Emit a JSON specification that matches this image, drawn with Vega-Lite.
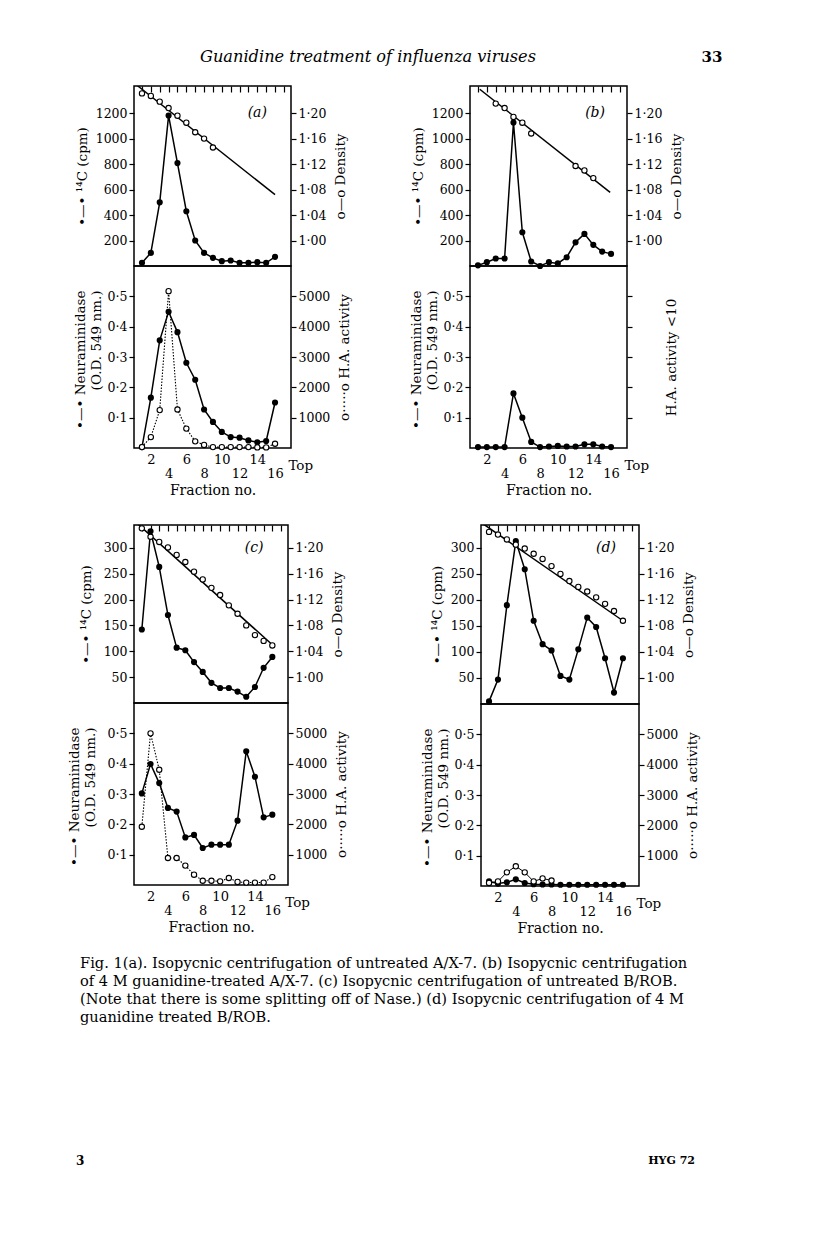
{
  "$schema": "https://vega.github.io/schema/vega-lite/v6.json",
  "background": "white",
  "padding": {"left": 66, "top": 49, "right": 0, "bottom": 0},
  "title": {"text": "Guanidine treatment of influenza viruses", "anchor": "start", "frame": "group", "dx": 66, "offset": -16, "fontStyle": "italic", "fontSize": 16.2, "fontWeight": "normal", "font": "DejaVu Serif", "color": "black"},
  "config": {
    "font": "DejaVu Serif",
    "view": {"stroke": "black", "strokeWidth": 1.5},
    "axis": {"domain": false, "grid": false, "labelColor": "black", "labelFontSize": 12.5, "labelFont": "DejaVu Serif", "tickColor": "black", "tickWidth": 1.2, "tickSize": 5, "labelPadding": 2, "titleColor": "black", "titleFont": "DejaVu Serif", "titleFontSize": 13.5, "titleFontWeight": "normal", "labelOverlap": false, "labelFlush": false},
    "title": {"color": "black", "font": "DejaVu Serif", "fontWeight": "normal"}
  },
  "datasets": {
    "pts": [
      {"p":"a","f":1,"cpm":25,"dens":1.231,"nd":0.003,"ha":30},
      {"p":"a","f":2,"cpm":103,"dens":1.227,"nd":0.166,"ha":360},
      {"p":"a","f":3,"cpm":500,"dens":1.218,"nd":0.355,"ha":1250},
      {"p":"a","f":4,"cpm":1181,"dens":1.208,"nd":0.449,"ha":5170},
      {"p":"a","f":5,"cpm":808,"dens":1.196,"nd":0.382,"ha":1270},
      {"p":"a","f":6,"cpm":430,"dens":1.185,"nd":0.281,"ha":640},
      {"p":"a","f":7,"cpm":200,"dens":1.170,"nd":0.225,"ha":220},
      {"p":"a","f":8,"cpm":103,"dens":1.160,"nd":0.127,"ha":100},
      {"p":"a","f":9,"cpm":64,"dens":1.146,"nd":0.086,"ha":30},
      {"p":"a","f":10,"cpm":38,"dens":null,"nd":0.053,"ha":30},
      {"p":"a","f":11,"cpm":43,"dens":null,"nd":0.036,"ha":30},
      {"p":"a","f":12,"cpm":25,"dens":null,"nd":0.034,"ha":30},
      {"p":"a","f":13,"cpm":25,"dens":null,"nd":0.025,"ha":30},
      {"p":"a","f":14,"cpm":30,"dens":null,"nd":0.019,"ha":20},
      {"p":"a","f":15,"cpm":25,"dens":null,"nd":0.023,"ha":20},
      {"p":"a","f":16,"cpm":72,"dens":null,"nd":0.150,"ha":140},
      {"p":"b","f":1,"cpm":5,"dens":null,"nd":0.003,"ha":null},
      {"p":"b","f":2,"cpm":30,"dens":null,"nd":0.003,"ha":null},
      {"p":"b","f":3,"cpm":59,"dens":1.215,"nd":0.003,"ha":null},
      {"p":"b","f":4,"cpm":59,"dens":1.208,"nd":0.003,"ha":null},
      {"p":"b","f":5,"cpm":1126,"dens":1.194,"nd":0.18,"ha":null},
      {"p":"b","f":6,"cpm":265,"dens":1.185,"nd":0.10,"ha":null},
      {"p":"b","f":7,"cpm":35,"dens":1.168,"nd":0.02,"ha":null},
      {"p":"b","f":8,"cpm":0,"dens":null,"nd":0.003,"ha":null},
      {"p":"b","f":9,"cpm":30,"dens":null,"nd":0.005,"ha":null},
      {"p":"b","f":10,"cpm":20,"dens":null,"nd":0.007,"ha":null},
      {"p":"b","f":11,"cpm":69,"dens":null,"nd":0.005,"ha":null},
      {"p":"b","f":12,"cpm":186,"dens":1.117,"nd":0.005,"ha":null},
      {"p":"b","f":13,"cpm":252,"dens":1.110,"nd":0.012,"ha":null},
      {"p":"b","f":14,"cpm":166,"dens":1.098,"nd":0.012,"ha":null},
      {"p":"b","f":15,"cpm":113,"dens":null,"nd":0.005,"ha":null},
      {"p":"b","f":16,"cpm":95,"dens":null,"nd":0.003,"ha":null},
      {"p":"c","f":1,"cpm":142,"dens":1.230,"nd":0.302,"ha":1920},
      {"p":"c","f":2,"cpm":332,"dens":1.217,"nd":0.399,"ha":5000},
      {"p":"c","f":3,"cpm":263,"dens":1.209,"nd":0.336,"ha":3800},
      {"p":"c","f":4,"cpm":170,"dens":1.2005,"nd":0.254,"ha":890},
      {"p":"c","f":5,"cpm":107,"dens":1.189,"nd":0.242,"ha":890},
      {"p":"c","f":6,"cpm":102,"dens":1.178,"nd":0.157,"ha":640},
      {"p":"c","f":7,"cpm":79,"dens":1.163,"nd":0.165,"ha":340},
      {"p":"c","f":8,"cpm":60,"dens":1.151,"nd":0.122,"ha":140},
      {"p":"c","f":9,"cpm":39,"dens":1.138,"nd":0.133,"ha":140},
      {"p":"c","f":10,"cpm":29,"dens":1.127,"nd":0.133,"ha":120},
      {"p":"c","f":11,"cpm":29,"dens":1.111,"nd":0.133,"ha":230},
      {"p":"c","f":12,"cpm":22,"dens":1.098,"nd":0.212,"ha":100},
      {"p":"c","f":13,"cpm":12,"dens":1.080,"nd":0.441,"ha":80},
      {"p":"c","f":14,"cpm":31,"dens":1.065,"nd":0.357,"ha":80},
      {"p":"c","f":15,"cpm":68,"dens":1.056,"nd":0.223,"ha":80},
      {"p":"c","f":16,"cpm":89,"dens":1.049,"nd":0.232,"ha":260},
      {"p":"d","f":1,"cpm":5,"dens":1.2246,"nd":0.015,"ha":100},
      {"p":"d","f":2,"cpm":47,"dens":1.2205,"nd":0.008,"ha":150},
      {"p":"d","f":3,"cpm":190,"dens":1.213,"nd":0.012,"ha":450},
      {"p":"d","f":4,"cpm":313,"dens":1.205,"nd":0.022,"ha":650},
      {"p":"d","f":5,"cpm":259,"dens":1.199,"nd":0.010,"ha":450},
      {"p":"d","f":6,"cpm":160,"dens":1.191,"nd":0.006,"ha":150},
      {"p":"d","f":7,"cpm":115,"dens":1.183,"nd":0.005,"ha":250},
      {"p":"d","f":8,"cpm":103,"dens":1.172,"nd":0.005,"ha":180},
      {"p":"d","f":9,"cpm":54,"dens":1.160,"nd":0.004,"ha":null},
      {"p":"d","f":10,"cpm":47,"dens":1.149,"nd":0.004,"ha":null},
      {"p":"d","f":11,"cpm":105,"dens":1.140,"nd":0.004,"ha":null},
      {"p":"d","f":12,"cpm":166,"dens":1.133,"nd":0.004,"ha":null},
      {"p":"d","f":13,"cpm":148,"dens":1.124,"nd":0.004,"ha":null},
      {"p":"d","f":14,"cpm":88,"dens":1.114,"nd":0.004,"ha":null},
      {"p":"d","f":15,"cpm":22,"dens":1.103,"nd":0.004,"ha":null},
      {"p":"d","f":16,"cpm":88,"dens":1.088,"nd":0.004,"ha":null}
    ],
    "fit": [
      {"p":"a","f":0.5,"dens":1.243},{"p":"a","f":16,"dens":1.072},
      {"p":"b","f":1.2,"dens":1.2375},{"p":"b","f":15.9,"dens":1.0756},
      {"p":"c","f":0.35,"dens":1.239},{"p":"c","f":16,"dens":1.050},
      {"p":"d","f":0.17,"dens":1.2385},{"p":"d","f":16,"dens":1.088}
    ],
    "lbl": [
      {"p":"a","label":"(a)","end":"Top"},{"p":"b","label":"(b)","end":"Top"},{"p":"c","label":"(c)","end":"Top"},{"p":"d","label":"(d)","end":"Top"}
    ],
    "foot": [
      {"side":"l","t":"3"},{"side":"r","t":"HYG 72"}
    ]
  },
  "vconcat": [
    {
      "spacing": 24,
      "vconcat": [
        {
          "spacing": 55,
          "hconcat": [
            {
              "spacing": 0, "bounds": "flush",
              "vconcat": [
                {
                  "width": 157, "height": 180,
                  "layer": [
                    {"layer": [
                      {"data": {"name": "pts"}, "transform": [{"filter": "datum.p === 'a'"}], "mark": {"type": "line", "color": "black", "strokeWidth": 1.5},
                       "encoding": {"x": {"field":"f","type":"quantitative","scale":{"domain":[0.1,17.8],"nice":false,"zero":false},"axis":{"orient":"top","values":[1,2,3,4,5,6,7,8,9,10,11,12,13,14,15,16,17],"labels":false,"tickSize":6,"offset":-6,"title":null}},
                                    "y": {"field":"cpm","type":"quantitative","scale":{"domain":[0,1413],"nice":false,"zero":false},"axis":{"values":[200,400,600,800,1000,1200],"format":"d","title":"•—•  ¹⁴C (cpm)","titlePadding":6}}}},
                      {"data": {"name": "pts"}, "transform": [{"filter": "datum.p === 'a'"}], "mark": {"type": "point", "shape": "circle", "filled": true, "color": "black", "size": 38, "opacity": 1},
                       "encoding": {"x": {"field":"f","type":"quantitative","scale":{"domain":[0.1,17.8],"nice":false,"zero":false},"axis":{"orient":"top","values":[1,2,3,4,5,6,7,8,9,10,11,12,13,14,15,16,17],"labels":false,"tickSize":6,"offset":-6,"title":null}},
                                    "y": {"field":"cpm","type":"quantitative","scale":{"domain":[0,1413],"nice":false,"zero":false},"axis":{"values":[200,400,600,800,1000,1200],"format":"d","title":"•—•  ¹⁴C (cpm)","titlePadding":6}}}},
                      {"data": {"name": "lbl"}, "transform": [{"filter": "datum.p === 'a'"}], "mark": {"type": "text", "fontStyle": "italic", "fontSize": 14, "color": "black"},
                       "encoding": {"text": {"field": "label"},
                                    "x": {"datum": 14, "type": "quantitative","scale":{"domain":[0.1,17.8],"nice":false,"zero":false},"axis":{"orient":"top","values":[1,2,3,4,5,6,7,8,9,10,11,12,13,14,15,16,17],"labels":false,"tickSize":6,"offset":-6,"title":null}},
                                    "y": {"datum": 1200, "type": "quantitative","scale":{"domain":[0,1413],"nice":false,"zero":false},"axis":{"values":[200,400,600,800,1000,1200],"format":"d","title":"•—•  ¹⁴C (cpm)","titlePadding":6}}}}
                    ]},
                    {"layer": [
                      {"data": {"name": "fit"}, "transform": [{"filter": "datum.p === 'a'"}], "mark": {"type": "line", "color": "black", "strokeWidth": 1.5, "clip": true},
                       "encoding": {"x": {"field":"f","type":"quantitative","scale":{"domain":[0.1,17.8],"nice":false,"zero":false},"axis":{"orient":"top","values":[1,2,3,4,5,6,7,8,9,10,11,12,13,14,15,16,17],"labels":false,"tickSize":6,"offset":-6,"title":null}},
                                    "y": {"field":"dens","type":"quantitative","scale":{"domain":[0.96,1.2426],"nice":false,"zero":false},"axis":{"orient":"right","values":[1,1.04,1.08,1.12,1.16,1.2],"labelExpr":"replace(format(datum.value,'.2f'),'.','·')","title":"o—o  Density","titleAngle":270,"titleBaseline":"top","titlePadding":8}}}},
                      {"data": {"name": "pts"}, "transform": [{"filter": "datum.p === 'a'"}], "mark": {"type": "point", "shape": "circle", "filled": true, "fill": "white", "stroke": "black", "strokeWidth": 1.1, "size": 28, "opacity": 1},
                       "encoding": {"x": {"field":"f","type":"quantitative","scale":{"domain":[0.1,17.8],"nice":false,"zero":false},"axis":{"orient":"top","values":[1,2,3,4,5,6,7,8,9,10,11,12,13,14,15,16,17],"labels":false,"tickSize":6,"offset":-6,"title":null}},
                                    "y": {"field":"dens","type":"quantitative","scale":{"domain":[0.96,1.2426],"nice":false,"zero":false},"axis":{"orient":"right","values":[1,1.04,1.08,1.12,1.16,1.2],"labelExpr":"replace(format(datum.value,'.2f'),'.','·')","title":"o—o  Density","titleAngle":270,"titleBaseline":"top","titlePadding":8}}}}
                    ]}
                  ],
                  "resolve": {"scale": {"y": "independent"}}
                },
                {
                  "width": 157, "height": 182,
                  "layer": [
                    {"layer": [
                      {"data": {"name": "pts"}, "transform": [{"filter": "datum.p === 'a'"}], "mark": {"type": "line", "color": "black", "strokeWidth": 1.5},
                       "encoding": {"x": {"field":"f","type":"quantitative","scale":{"domain":[0.1,17.8],"nice":false,"zero":false},"axis":{"orient":"bottom","values":[2,4,6,8,10,12,14,16],"ticks":false,"labelPadding":5,"labelLineHeight":14,"labelFontSize":13,"labelExpr":"datum.value % 4 == 2 ? datum.label : ['\u00a0', datum.label]","title":"Fraction no.","titlePadding":3,"titleFontSize":14}},
                                    "y": {"field":"nd","type":"quantitative","scale":{"domain":[0,0.6],"nice":false,"zero":false},"axis":{"values":[0.1,0.2,0.3,0.4,0.5],"labelExpr":"replace(format(datum.value,'.1f'),'.','·')","title":["•—• Neuraminidase","(O.D. 549 nm.)"],"titleAlign":"right","titleY":24,"titlePadding":4}}}},
                      {"data": {"name": "pts"}, "transform": [{"filter": "datum.p === 'a'"}], "mark": {"type": "point", "shape": "circle", "filled": true, "color": "black", "size": 38, "opacity": 1},
                       "encoding": {"x": {"field":"f","type":"quantitative","scale":{"domain":[0.1,17.8],"nice":false,"zero":false},"axis":{"orient":"bottom","values":[2,4,6,8,10,12,14,16],"ticks":false,"labelPadding":5,"labelLineHeight":14,"labelFontSize":13,"labelExpr":"datum.value % 4 == 2 ? datum.label : ['\u00a0', datum.label]","title":"Fraction no.","titlePadding":3,"titleFontSize":14}},
                                    "y": {"field":"nd","type":"quantitative","scale":{"domain":[0,0.6],"nice":false,"zero":false},"axis":{"values":[0.1,0.2,0.3,0.4,0.5],"labelExpr":"replace(format(datum.value,'.1f'),'.','·')","title":["•—• Neuraminidase","(O.D. 549 nm.)"],"titleAlign":"right","titleY":24,"titlePadding":4}}}},
                      {"data": {"name": "lbl"}, "transform": [{"filter": "datum.p === 'a'"}], "mark": {"type": "text", "fontSize": 13.5, "color": "black"},
                       "encoding": {"text": {"field": "end"},
                                    "x": {"datum": 18.9, "type":"quantitative","scale":{"domain":[0.1,17.8],"nice":false,"zero":false},"axis":{"orient":"bottom","values":[2,4,6,8,10,12,14,16],"ticks":false,"labelPadding":5,"labelLineHeight":14,"labelFontSize":13,"labelExpr":"datum.value % 4 == 2 ? datum.label : ['\u00a0', datum.label]","title":"Fraction no.","titlePadding":3,"titleFontSize":14}},
                                    "y": {"datum": -0.058, "type":"quantitative","scale":{"domain":[0,0.6],"nice":false,"zero":false},"axis":{"values":[0.1,0.2,0.3,0.4,0.5],"labelExpr":"replace(format(datum.value,'.1f'),'.','·')","title":["•—• Neuraminidase","(O.D. 549 nm.)"],"titleAlign":"right","titleY":24,"titlePadding":4}}}}
                    ]},
                    {"layer": [
                      {"data": {"name": "pts"}, "transform": [{"filter": "datum.p === 'a'"}], "mark": {"type": "line", "color": "black", "strokeWidth": 1.1, "strokeDash": [1.5, 1.5]},
                       "encoding": {"x": {"field":"f","type":"quantitative","scale":{"domain":[0.1,17.8],"nice":false,"zero":false},"axis":{"orient":"bottom","values":[2,4,6,8,10,12,14,16],"ticks":false,"labelPadding":5,"labelLineHeight":14,"labelFontSize":13,"labelExpr":"datum.value % 4 == 2 ? datum.label : ['\u00a0', datum.label]","title":"Fraction no.","titlePadding":3,"titleFontSize":14}},
                                    "y": {"field":"ha","type":"quantitative","scale":{"domain":[0,6000],"nice":false,"zero":false},"axis":{"orient":"right","values":[1000,2000,3000,4000,5000],"format":"d","title":"o·····o  H.A. activity","titleAngle":270,"titleBaseline":"top","titlePadding":8}}}},
                      {"data": {"name": "pts"}, "transform": [{"filter": "datum.p === 'a'"}], "mark": {"type": "point", "shape": "circle", "filled": true, "fill": "white", "stroke": "black", "strokeWidth": 1.1, "size": 28, "opacity": 1},
                       "encoding": {"x": {"field":"f","type":"quantitative","scale":{"domain":[0.1,17.8],"nice":false,"zero":false},"axis":{"orient":"bottom","values":[2,4,6,8,10,12,14,16],"ticks":false,"labelPadding":5,"labelLineHeight":14,"labelFontSize":13,"labelExpr":"datum.value % 4 == 2 ? datum.label : ['\u00a0', datum.label]","title":"Fraction no.","titlePadding":3,"titleFontSize":14}},
                                    "y": {"field":"ha","type":"quantitative","scale":{"domain":[0,6000],"nice":false,"zero":false},"axis":{"orient":"right","values":[1000,2000,3000,4000,5000],"format":"d","title":"o·····o  H.A. activity","titleAngle":270,"titleBaseline":"top","titlePadding":8}}}}
                    ]}
                  ],
                  "resolve": {"scale": {"y": "independent"}}
                }
              ]
            },
            {
              "spacing": 0, "bounds": "flush",
              "vconcat": [
                {
                  "width": 157, "height": 180,
                  "title": {"text": "33", "anchor": "end", "frame": "bounds", "dx": 39, "fontWeight": "bold", "fontSize": 15, "offset": 20},
                  "layer": [
                    {"layer": [
                      {"data": {"name": "pts"}, "transform": [{"filter": "datum.p === 'b'"}], "mark": {"type": "line", "color": "black", "strokeWidth": 1.5},
                       "encoding": {"x": {"field":"f","type":"quantitative","scale":{"domain":[0.1,17.8],"nice":false,"zero":false},"axis":{"orient":"top","values":[1,2,3,4,5,6,7,8,9,10,11,12,13,14,15,16,17],"labels":false,"tickSize":6,"offset":-6,"title":null}},
                                    "y": {"field":"cpm","type":"quantitative","scale":{"domain":[0,1413],"nice":false,"zero":false},"axis":{"values":[200,400,600,800,1000,1200],"format":"d","title":"•—•  ¹⁴C (cpm)","titlePadding":6}}}},
                      {"data": {"name": "pts"}, "transform": [{"filter": "datum.p === 'b'"}], "mark": {"type": "point", "shape": "circle", "filled": true, "color": "black", "size": 38, "opacity": 1},
                       "encoding": {"x": {"field":"f","type":"quantitative","scale":{"domain":[0.1,17.8],"nice":false,"zero":false},"axis":{"orient":"top","values":[1,2,3,4,5,6,7,8,9,10,11,12,13,14,15,16,17],"labels":false,"tickSize":6,"offset":-6,"title":null}},
                                    "y": {"field":"cpm","type":"quantitative","scale":{"domain":[0,1413],"nice":false,"zero":false},"axis":{"values":[200,400,600,800,1000,1200],"format":"d","title":"•—•  ¹⁴C (cpm)","titlePadding":6}}}},
                      {"data": {"name": "lbl"}, "transform": [{"filter": "datum.p === 'b'"}], "mark": {"type": "text", "fontStyle": "italic", "fontSize": 14, "color": "black"},
                       "encoding": {"text": {"field": "label"},
                                    "x": {"datum": 14.2, "type": "quantitative","scale":{"domain":[0.1,17.8],"nice":false,"zero":false},"axis":{"orient":"top","values":[1,2,3,4,5,6,7,8,9,10,11,12,13,14,15,16,17],"labels":false,"tickSize":6,"offset":-6,"title":null}},
                                    "y": {"datum": 1200, "type": "quantitative","scale":{"domain":[0,1413],"nice":false,"zero":false},"axis":{"values":[200,400,600,800,1000,1200],"format":"d","title":"•—•  ¹⁴C (cpm)","titlePadding":6}}}}
                    ]},
                    {"layer": [
                      {"data": {"name": "fit"}, "transform": [{"filter": "datum.p === 'b'"}], "mark": {"type": "line", "color": "black", "strokeWidth": 1.5, "clip": true},
                       "encoding": {"x": {"field":"f","type":"quantitative","scale":{"domain":[0.1,17.8],"nice":false,"zero":false},"axis":{"orient":"top","values":[1,2,3,4,5,6,7,8,9,10,11,12,13,14,15,16,17],"labels":false,"tickSize":6,"offset":-6,"title":null}},
                                    "y": {"field":"dens","type":"quantitative","scale":{"domain":[0.96,1.2426],"nice":false,"zero":false},"axis":{"orient":"right","values":[1,1.04,1.08,1.12,1.16,1.2],"labelExpr":"replace(format(datum.value,'.2f'),'.','·')","title":"o—o  Density","titleAngle":270,"titleBaseline":"top","titlePadding":8}}}},
                      {"data": {"name": "pts"}, "transform": [{"filter": "datum.p === 'b'"}], "mark": {"type": "point", "shape": "circle", "filled": true, "fill": "white", "stroke": "black", "strokeWidth": 1.1, "size": 28, "opacity": 1},
                       "encoding": {"x": {"field":"f","type":"quantitative","scale":{"domain":[0.1,17.8],"nice":false,"zero":false},"axis":{"orient":"top","values":[1,2,3,4,5,6,7,8,9,10,11,12,13,14,15,16,17],"labels":false,"tickSize":6,"offset":-6,"title":null}},
                                    "y": {"field":"dens","type":"quantitative","scale":{"domain":[0.96,1.2426],"nice":false,"zero":false},"axis":{"orient":"right","values":[1,1.04,1.08,1.12,1.16,1.2],"labelExpr":"replace(format(datum.value,'.2f'),'.','·')","title":"o—o  Density","titleAngle":270,"titleBaseline":"top","titlePadding":8}}}}
                    ]}
                  ],
                  "resolve": {"scale": {"y": "independent"}}
                },
                {
                  "width": 157, "height": 182,
                  "layer": [
                    {"layer": [
                      {"data": {"name": "pts"}, "transform": [{"filter": "datum.p === 'b'"}], "mark": {"type": "line", "color": "black", "strokeWidth": 1.5},
                       "encoding": {"x": {"field":"f","type":"quantitative","scale":{"domain":[0.1,17.8],"nice":false,"zero":false},"axis":{"orient":"bottom","values":[2,4,6,8,10,12,14,16],"ticks":false,"labelPadding":5,"labelLineHeight":14,"labelFontSize":13,"labelExpr":"datum.value % 4 == 2 ? datum.label : ['\u00a0', datum.label]","title":"Fraction no.","titlePadding":3,"titleFontSize":14}},
                                    "y": {"field":"nd","type":"quantitative","scale":{"domain":[0,0.6],"nice":false,"zero":false},"axis":{"values":[0.1,0.2,0.3,0.4,0.5],"labelExpr":"replace(format(datum.value,'.1f'),'.','·')","title":["•—• Neuraminidase","(O.D. 549 nm.)"],"titleAlign":"right","titleY":24,"titlePadding":4}}}},
                      {"data": {"name": "pts"}, "transform": [{"filter": "datum.p === 'b'"}], "mark": {"type": "point", "shape": "circle", "filled": true, "color": "black", "size": 38, "opacity": 1},
                       "encoding": {"x": {"field":"f","type":"quantitative","scale":{"domain":[0.1,17.8],"nice":false,"zero":false},"axis":{"orient":"bottom","values":[2,4,6,8,10,12,14,16],"ticks":false,"labelPadding":5,"labelLineHeight":14,"labelFontSize":13,"labelExpr":"datum.value % 4 == 2 ? datum.label : ['\u00a0', datum.label]","title":"Fraction no.","titlePadding":3,"titleFontSize":14}},
                                    "y": {"field":"nd","type":"quantitative","scale":{"domain":[0,0.6],"nice":false,"zero":false},"axis":{"values":[0.1,0.2,0.3,0.4,0.5],"labelExpr":"replace(format(datum.value,'.1f'),'.','·')","title":["•—• Neuraminidase","(O.D. 549 nm.)"],"titleAlign":"right","titleY":24,"titlePadding":4}}}},
                      {"data": {"name": "lbl"}, "transform": [{"filter": "datum.p === 'b'"}], "mark": {"type": "text", "fontSize": 13.5, "color": "black"},
                       "encoding": {"text": {"field": "end"},
                                    "x": {"datum": 18.9, "type":"quantitative","scale":{"domain":[0.1,17.8],"nice":false,"zero":false},"axis":{"orient":"bottom","values":[2,4,6,8,10,12,14,16],"ticks":false,"labelPadding":5,"labelLineHeight":14,"labelFontSize":13,"labelExpr":"datum.value % 4 == 2 ? datum.label : ['\u00a0', datum.label]","title":"Fraction no.","titlePadding":3,"titleFontSize":14}},
                                    "y": {"datum": -0.058, "type":"quantitative","scale":{"domain":[0,0.6],"nice":false,"zero":false},"axis":{"values":[0.1,0.2,0.3,0.4,0.5],"labelExpr":"replace(format(datum.value,'.1f'),'.','·')","title":["•—• Neuraminidase","(O.D. 549 nm.)"],"titleAlign":"right","titleY":24,"titlePadding":4}}}}
                    ]},
                    {"layer": [
                      {"data": {"name": "pts"}, "transform": [{"filter": "datum.p === 'b'"}], "mark": {"type": "point", "shape": "circle", "filled": true, "fill": "white", "stroke": "black", "strokeWidth": 1.1, "size": 28, "opacity": 1},
                       "encoding": {"x": {"field":"f","type":"quantitative","scale":{"domain":[0.1,17.8],"nice":false,"zero":false},"axis":{"orient":"bottom","values":[2,4,6,8,10,12,14,16],"ticks":false,"labelPadding":5,"labelLineHeight":14,"labelFontSize":13,"labelExpr":"datum.value % 4 == 2 ? datum.label : ['\u00a0', datum.label]","title":"Fraction no.","titlePadding":3,"titleFontSize":14}},
                                    "y": {"field":"ha","type":"quantitative","scale":{"domain":[0,6000],"nice":false,"zero":false},"axis":{"orient":"right","values":[1000,2000,3000,4000,5000],"labels":false,"title":"H.A. activity <10","titleAngle":270,"titleBaseline":"top","titlePadding":32}}}}
                    ]}
                  ],
                  "resolve": {"scale": {"y": "independent"}}
                }
              ]
            }
          ]
        },
        {
          "spacing": 69,
          "hconcat": [
            {
              "spacing": 0, "bounds": "flush",
              "vconcat": [
                {
                  "width": 154, "height": 178,
                  "layer": [
                    {"layer": [
                      {"data": {"name": "pts"}, "transform": [{"filter": "datum.p === 'c'"}], "mark": {"type": "line", "color": "black", "strokeWidth": 1.5},
                       "encoding": {"x": {"field":"f","type":"quantitative","scale":{"domain":[0.1,17.8],"nice":false,"zero":false},"axis":{"orient":"top","values":[1,2,3,4,5,6,7,8,9,10,11,12,13,14,15,16,17],"labels":false,"tickSize":6,"offset":-6,"title":null}},
                                    "y": {"field":"cpm","type":"quantitative","scale":{"domain":[0,344],"nice":false,"zero":false},"axis":{"values":[50,100,150,200,250,300],"title":"•—•  ¹⁴C (cpm)","titlePadding":10}}}},
                      {"data": {"name": "pts"}, "transform": [{"filter": "datum.p === 'c'"}], "mark": {"type": "point", "shape": "circle", "filled": true, "color": "black", "size": 38, "opacity": 1},
                       "encoding": {"x": {"field":"f","type":"quantitative","scale":{"domain":[0.1,17.8],"nice":false,"zero":false},"axis":{"orient":"top","values":[1,2,3,4,5,6,7,8,9,10,11,12,13,14,15,16,17],"labels":false,"tickSize":6,"offset":-6,"title":null}},
                                    "y": {"field":"cpm","type":"quantitative","scale":{"domain":[0,344],"nice":false,"zero":false},"axis":{"values":[50,100,150,200,250,300],"title":"•—•  ¹⁴C (cpm)","titlePadding":10}}}},
                      {"data": {"name": "lbl"}, "transform": [{"filter": "datum.p === 'c'"}], "mark": {"type": "text", "fontStyle": "italic", "fontSize": 14, "color": "black"},
                       "encoding": {"text": {"field": "label"},
                                    "x": {"datum": 13.9, "type": "quantitative","scale":{"domain":[0.1,17.8],"nice":false,"zero":false},"axis":{"orient":"top","values":[1,2,3,4,5,6,7,8,9,10,11,12,13,14,15,16,17],"labels":false,"tickSize":6,"offset":-6,"title":null}},
                                    "y": {"datum": 300, "type": "quantitative","scale":{"domain":[0,344],"nice":false,"zero":false},"axis":{"values":[50,100,150,200,250,300],"title":"•—•  ¹⁴C (cpm)","titlePadding":10}}}}
                    ]},
                    {"layer": [
                      {"data": {"name": "fit"}, "transform": [{"filter": "datum.p === 'c'"}], "mark": {"type": "line", "color": "black", "strokeWidth": 1.5, "clip": true},
                       "encoding": {"x": {"field":"f","type":"quantitative","scale":{"domain":[0.1,17.8],"nice":false,"zero":false},"axis":{"orient":"top","values":[1,2,3,4,5,6,7,8,9,10,11,12,13,14,15,16,17],"labels":false,"tickSize":6,"offset":-6,"title":null}},
                                    "y": {"field":"dens","type":"quantitative","scale":{"domain":[0.96,1.2352],"nice":false,"zero":false},"axis":{"orient":"right","values":[1,1.04,1.08,1.12,1.16,1.2],"labelExpr":"replace(format(datum.value,'.2f'),'.','·')","title":"o—o  Density","titleAngle":270,"titleBaseline":"top","titlePadding":8}}}},
                      {"data": {"name": "pts"}, "transform": [{"filter": "datum.p === 'c'"}], "mark": {"type": "point", "shape": "circle", "filled": true, "fill": "white", "stroke": "black", "strokeWidth": 1.1, "size": 28, "opacity": 1},
                       "encoding": {"x": {"field":"f","type":"quantitative","scale":{"domain":[0.1,17.8],"nice":false,"zero":false},"axis":{"orient":"top","values":[1,2,3,4,5,6,7,8,9,10,11,12,13,14,15,16,17],"labels":false,"tickSize":6,"offset":-6,"title":null}},
                                    "y": {"field":"dens","type":"quantitative","scale":{"domain":[0.96,1.2352],"nice":false,"zero":false},"axis":{"orient":"right","values":[1,1.04,1.08,1.12,1.16,1.2],"labelExpr":"replace(format(datum.value,'.2f'),'.','·')","title":"o—o  Density","titleAngle":270,"titleBaseline":"top","titlePadding":8}}}}
                    ]}
                  ],
                  "resolve": {"scale": {"y": "independent"}}
                },
                {
                  "width": 154, "height": 182,
                  "layer": [
                    {"layer": [
                      {"data": {"name": "pts"}, "transform": [{"filter": "datum.p === 'c'"}], "mark": {"type": "line", "color": "black", "strokeWidth": 1.5},
                       "encoding": {"x": {"field":"f","type":"quantitative","scale":{"domain":[0.1,17.8],"nice":false,"zero":false},"axis":{"orient":"bottom","values":[2,4,6,8,10,12,14,16],"ticks":false,"labelPadding":5,"labelLineHeight":14,"labelFontSize":13,"labelExpr":"datum.value % 4 == 2 ? datum.label : ['\u00a0', datum.label]","title":"Fraction no.","titlePadding":3,"titleFontSize":14}},
                                    "y": {"field":"nd","type":"quantitative","scale":{"domain":[0,0.6],"nice":false,"zero":false},"axis":{"values":[0.1,0.2,0.3,0.4,0.5],"labelExpr":"replace(format(datum.value,'.1f'),'.','·')","title":["•—• Neuraminidase","(O.D. 549 nm.)"],"titleAlign":"right","titleY":24,"titlePadding":10}}}},
                      {"data": {"name": "pts"}, "transform": [{"filter": "datum.p === 'c'"}], "mark": {"type": "point", "shape": "circle", "filled": true, "color": "black", "size": 38, "opacity": 1},
                       "encoding": {"x": {"field":"f","type":"quantitative","scale":{"domain":[0.1,17.8],"nice":false,"zero":false},"axis":{"orient":"bottom","values":[2,4,6,8,10,12,14,16],"ticks":false,"labelPadding":5,"labelLineHeight":14,"labelFontSize":13,"labelExpr":"datum.value % 4 == 2 ? datum.label : ['\u00a0', datum.label]","title":"Fraction no.","titlePadding":3,"titleFontSize":14}},
                                    "y": {"field":"nd","type":"quantitative","scale":{"domain":[0,0.6],"nice":false,"zero":false},"axis":{"values":[0.1,0.2,0.3,0.4,0.5],"labelExpr":"replace(format(datum.value,'.1f'),'.','·')","title":["•—• Neuraminidase","(O.D. 549 nm.)"],"titleAlign":"right","titleY":24,"titlePadding":10}}}},
                      {"data": {"name": "lbl"}, "transform": [{"filter": "datum.p === 'c'"}], "mark": {"type": "text", "fontSize": 13.5, "color": "black"},
                       "encoding": {"text": {"field": "end"},
                                    "x": {"datum": 18.9, "type":"quantitative","scale":{"domain":[0.1,17.8],"nice":false,"zero":false},"axis":{"orient":"bottom","values":[2,4,6,8,10,12,14,16],"ticks":false,"labelPadding":5,"labelLineHeight":14,"labelFontSize":13,"labelExpr":"datum.value % 4 == 2 ? datum.label : ['\u00a0', datum.label]","title":"Fraction no.","titlePadding":3,"titleFontSize":14}},
                                    "y": {"datum": -0.058, "type":"quantitative","scale":{"domain":[0,0.6],"nice":false,"zero":false},"axis":{"values":[0.1,0.2,0.3,0.4,0.5],"labelExpr":"replace(format(datum.value,'.1f'),'.','·')","title":["•—• Neuraminidase","(O.D. 549 nm.)"],"titleAlign":"right","titleY":24,"titlePadding":10}}}}
                    ]},
                    {"layer": [
                      {"data": {"name": "pts"}, "transform": [{"filter": "datum.p === 'c'"}], "mark": {"type": "line", "color": "black", "strokeWidth": 1.1, "strokeDash": [1.5, 1.5]},
                       "encoding": {"x": {"field":"f","type":"quantitative","scale":{"domain":[0.1,17.8],"nice":false,"zero":false},"axis":{"orient":"bottom","values":[2,4,6,8,10,12,14,16],"ticks":false,"labelPadding":5,"labelLineHeight":14,"labelFontSize":13,"labelExpr":"datum.value % 4 == 2 ? datum.label : ['\u00a0', datum.label]","title":"Fraction no.","titlePadding":3,"titleFontSize":14}},
                                    "y": {"field":"ha","type":"quantitative","scale":{"domain":[0,6000],"nice":false,"zero":false},"axis":{"orient":"right","values":[1000,2000,3000,4000,5000],"format":"d","title":"o·····o  H.A. activity","titleAngle":270,"titleBaseline":"top","titlePadding":8}}}},
                      {"data": {"name": "pts"}, "transform": [{"filter": "datum.p === 'c'"}], "mark": {"type": "point", "shape": "circle", "filled": true, "fill": "white", "stroke": "black", "strokeWidth": 1.1, "size": 28, "opacity": 1},
                       "encoding": {"x": {"field":"f","type":"quantitative","scale":{"domain":[0.1,17.8],"nice":false,"zero":false},"axis":{"orient":"bottom","values":[2,4,6,8,10,12,14,16],"ticks":false,"labelPadding":5,"labelLineHeight":14,"labelFontSize":13,"labelExpr":"datum.value % 4 == 2 ? datum.label : ['\u00a0', datum.label]","title":"Fraction no.","titlePadding":3,"titleFontSize":14}},
                                    "y": {"field":"ha","type":"quantitative","scale":{"domain":[0,6000],"nice":false,"zero":false},"axis":{"orient":"right","values":[1000,2000,3000,4000,5000],"format":"d","title":"o·····o  H.A. activity","titleAngle":270,"titleBaseline":"top","titlePadding":8}}}}
                    ]}
                  ],
                  "resolve": {"scale": {"y": "independent"}}
                }
              ]
            },
            {
              "spacing": 0, "bounds": "flush",
              "vconcat": [
                {
                  "width": 158, "height": 179,
                  "layer": [
                    {"layer": [
                      {"data": {"name": "pts"}, "transform": [{"filter": "datum.p === 'd'"}], "mark": {"type": "line", "color": "black", "strokeWidth": 1.5},
                       "encoding": {"x": {"field":"f","type":"quantitative","scale":{"domain":[0.1,17.8],"nice":false,"zero":false},"axis":{"orient":"top","values":[1,2,3,4,5,6,7,8,9,10,11,12,13,14,15,16,17],"labels":false,"tickSize":6,"offset":-6,"title":null}},
                                    "y": {"field":"cpm","type":"quantitative","scale":{"domain":[0,344],"nice":false,"zero":false},"axis":{"values":[50,100,150,200,250,300],"title":"•—•  ¹⁴C (cpm)","titlePadding":6}}}},
                      {"data": {"name": "pts"}, "transform": [{"filter": "datum.p === 'd'"}], "mark": {"type": "point", "shape": "circle", "filled": true, "color": "black", "size": 38, "opacity": 1},
                       "encoding": {"x": {"field":"f","type":"quantitative","scale":{"domain":[0.1,17.8],"nice":false,"zero":false},"axis":{"orient":"top","values":[1,2,3,4,5,6,7,8,9,10,11,12,13,14,15,16,17],"labels":false,"tickSize":6,"offset":-6,"title":null}},
                                    "y": {"field":"cpm","type":"quantitative","scale":{"domain":[0,344],"nice":false,"zero":false},"axis":{"values":[50,100,150,200,250,300],"title":"•—•  ¹⁴C (cpm)","titlePadding":6}}}},
                      {"data": {"name": "lbl"}, "transform": [{"filter": "datum.p === 'd'"}], "mark": {"type": "text", "fontStyle": "italic", "fontSize": 14, "color": "black"},
                       "encoding": {"text": {"field": "label"},
                                    "x": {"datum": 14.1, "type": "quantitative","scale":{"domain":[0.1,17.8],"nice":false,"zero":false},"axis":{"orient":"top","values":[1,2,3,4,5,6,7,8,9,10,11,12,13,14,15,16,17],"labels":false,"tickSize":6,"offset":-6,"title":null}},
                                    "y": {"datum": 300, "type": "quantitative","scale":{"domain":[0,344],"nice":false,"zero":false},"axis":{"values":[50,100,150,200,250,300],"title":"•—•  ¹⁴C (cpm)","titlePadding":6}}}}
                    ]},
                    {"layer": [
                      {"data": {"name": "fit"}, "transform": [{"filter": "datum.p === 'd'"}], "mark": {"type": "line", "color": "black", "strokeWidth": 1.5, "clip": true},
                       "encoding": {"x": {"field":"f","type":"quantitative","scale":{"domain":[0.1,17.8],"nice":false,"zero":false},"axis":{"orient":"top","values":[1,2,3,4,5,6,7,8,9,10,11,12,13,14,15,16,17],"labels":false,"tickSize":6,"offset":-6,"title":null}},
                                    "y": {"field":"dens","type":"quantitative","scale":{"domain":[0.96,1.2352],"nice":false,"zero":false},"axis":{"orient":"right","values":[1,1.04,1.08,1.12,1.16,1.2],"labelExpr":"replace(format(datum.value,'.2f'),'.','·')","title":"o—o  Density","titleAngle":270,"titleBaseline":"top","titlePadding":8}}}},
                      {"data": {"name": "pts"}, "transform": [{"filter": "datum.p === 'd'"}], "mark": {"type": "point", "shape": "circle", "filled": true, "fill": "white", "stroke": "black", "strokeWidth": 1.1, "size": 28, "opacity": 1},
                       "encoding": {"x": {"field":"f","type":"quantitative","scale":{"domain":[0.1,17.8],"nice":false,"zero":false},"axis":{"orient":"top","values":[1,2,3,4,5,6,7,8,9,10,11,12,13,14,15,16,17],"labels":false,"tickSize":6,"offset":-6,"title":null}},
                                    "y": {"field":"dens","type":"quantitative","scale":{"domain":[0.96,1.2352],"nice":false,"zero":false},"axis":{"orient":"right","values":[1,1.04,1.08,1.12,1.16,1.2],"labelExpr":"replace(format(datum.value,'.2f'),'.','·')","title":"o—o  Density","titleAngle":270,"titleBaseline":"top","titlePadding":8}}}}
                    ]}
                  ],
                  "resolve": {"scale": {"y": "independent"}}
                },
                {
                  "width": 158, "height": 182,
                  "layer": [
                    {"layer": [
                      {"data": {"name": "pts"}, "transform": [{"filter": "datum.p === 'd'"}], "mark": {"type": "line", "color": "black", "strokeWidth": 1.5},
                       "encoding": {"x": {"field":"f","type":"quantitative","scale":{"domain":[0.1,17.8],"nice":false,"zero":false},"axis":{"orient":"bottom","values":[2,4,6,8,10,12,14,16],"ticks":false,"labelPadding":5,"labelLineHeight":14,"labelFontSize":13,"labelExpr":"datum.value % 4 == 2 ? datum.label : ['\u00a0', datum.label]","title":"Fraction no.","titlePadding":3,"titleFontSize":14}},
                                    "y": {"field":"nd","type":"quantitative","scale":{"domain":[0,0.6],"nice":false,"zero":false},"axis":{"values":[0.1,0.2,0.3,0.4,0.5],"labelExpr":"replace(format(datum.value,'.1f'),'.','·')","title":["•—• Neuraminidase","(O.D. 549 nm.)"],"titleAlign":"right","titleY":24,"titlePadding":4}}}},
                      {"data": {"name": "pts"}, "transform": [{"filter": "datum.p === 'd'"}], "mark": {"type": "point", "shape": "circle", "filled": true, "color": "black", "size": 38, "opacity": 1},
                       "encoding": {"x": {"field":"f","type":"quantitative","scale":{"domain":[0.1,17.8],"nice":false,"zero":false},"axis":{"orient":"bottom","values":[2,4,6,8,10,12,14,16],"ticks":false,"labelPadding":5,"labelLineHeight":14,"labelFontSize":13,"labelExpr":"datum.value % 4 == 2 ? datum.label : ['\u00a0', datum.label]","title":"Fraction no.","titlePadding":3,"titleFontSize":14}},
                                    "y": {"field":"nd","type":"quantitative","scale":{"domain":[0,0.6],"nice":false,"zero":false},"axis":{"values":[0.1,0.2,0.3,0.4,0.5],"labelExpr":"replace(format(datum.value,'.1f'),'.','·')","title":["•—• Neuraminidase","(O.D. 549 nm.)"],"titleAlign":"right","titleY":24,"titlePadding":4}}}},
                      {"data": {"name": "lbl"}, "transform": [{"filter": "datum.p === 'd'"}], "mark": {"type": "text", "fontSize": 13.5, "color": "black"},
                       "encoding": {"text": {"field": "end"},
                                    "x": {"datum": 18.9, "type":"quantitative","scale":{"domain":[0.1,17.8],"nice":false,"zero":false},"axis":{"orient":"bottom","values":[2,4,6,8,10,12,14,16],"ticks":false,"labelPadding":5,"labelLineHeight":14,"labelFontSize":13,"labelExpr":"datum.value % 4 == 2 ? datum.label : ['\u00a0', datum.label]","title":"Fraction no.","titlePadding":3,"titleFontSize":14}},
                                    "y": {"datum": -0.058, "type":"quantitative","scale":{"domain":[0,0.6],"nice":false,"zero":false},"axis":{"values":[0.1,0.2,0.3,0.4,0.5],"labelExpr":"replace(format(datum.value,'.1f'),'.','·')","title":["•—• Neuraminidase","(O.D. 549 nm.)"],"titleAlign":"right","titleY":24,"titlePadding":4}}}}
                    ]},
                    {"layer": [
                      {"data": {"name": "pts"}, "transform": [{"filter": "datum.p === 'd'"}], "mark": {"type": "line", "color": "black", "strokeWidth": 1},
                       "encoding": {"x": {"field":"f","type":"quantitative","scale":{"domain":[0.1,17.8],"nice":false,"zero":false},"axis":{"orient":"bottom","values":[2,4,6,8,10,12,14,16],"ticks":false,"labelPadding":5,"labelLineHeight":14,"labelFontSize":13,"labelExpr":"datum.value % 4 == 2 ? datum.label : ['\u00a0', datum.label]","title":"Fraction no.","titlePadding":3,"titleFontSize":14}},
                                    "y": {"field":"ha","type":"quantitative","scale":{"domain":[0,6000],"nice":false,"zero":false},"axis":{"orient":"right","values":[1000,2000,3000,4000,5000],"format":"d","title":"o·····o  H.A. activity","titleAngle":270,"titleBaseline":"top","titlePadding":8}}}},
                      {"data": {"name": "pts"}, "transform": [{"filter": "datum.p === 'd'"}], "mark": {"type": "point", "shape": "circle", "filled": true, "fill": "white", "stroke": "black", "strokeWidth": 1.1, "size": 28, "opacity": 1},
                       "encoding": {"x": {"field":"f","type":"quantitative","scale":{"domain":[0.1,17.8],"nice":false,"zero":false},"axis":{"orient":"bottom","values":[2,4,6,8,10,12,14,16],"ticks":false,"labelPadding":5,"labelLineHeight":14,"labelFontSize":13,"labelExpr":"datum.value % 4 == 2 ? datum.label : ['\u00a0', datum.label]","title":"Fraction no.","titlePadding":3,"titleFontSize":14}},
                                    "y": {"field":"ha","type":"quantitative","scale":{"domain":[0,6000],"nice":false,"zero":false},"axis":{"orient":"right","values":[1000,2000,3000,4000,5000],"format":"d","title":"o·····o  H.A. activity","titleAngle":270,"titleBaseline":"top","titlePadding":8}}}}
                    ]}
                  ],
                  "resolve": {"scale": {"y": "independent"}}
                }
              ]
            }
          ]
        }
      ]
    },
    {
      "width": 561, "height": 12,
      "view": {"stroke": null},
      "title": {"text": ["Fig. 1(a). Isopycnic centrifugation of untreated A/X-7. (b) Isopycnic centrifugation", "of 4 M guanidine-treated A/X-7. (c) Isopycnic centrifugation of untreated B/ROB.", "(Note that there is some splitting off of Nase.) (d) Isopycnic centrifugation of 4 M", "guanidine treated B/ROB."], "anchor": "start", "frame": "group", "fontSize": 14.6, "lineHeight": 18, "offset": 130, "dx": -54},
      "data": {"name": "foot"},
      "layer": [
        {"transform": [{"filter": "datum.side === 'l'"}], "mark": {"type": "text", "align": "left", "fontSize": 12, "fontWeight": "bold", "color": "black", "dx": -58},
         "encoding": {"text": {"field": "t"}, "x": {"field": "side", "type": "nominal", "scale": {"type": "point", "domain": ["l", "r"], "padding": 0}, "axis": null}}},
        {"transform": [{"filter": "datum.side === 'r'"}], "mark": {"type": "text", "align": "right", "fontSize": 11, "fontWeight": "bold", "color": "black"},
         "encoding": {"text": {"field": "t"}, "x": {"field": "side", "type": "nominal", "scale": {"type": "point", "domain": ["l", "r"], "padding": 0}, "axis": null}}}
      ]
    }
  ]
}
